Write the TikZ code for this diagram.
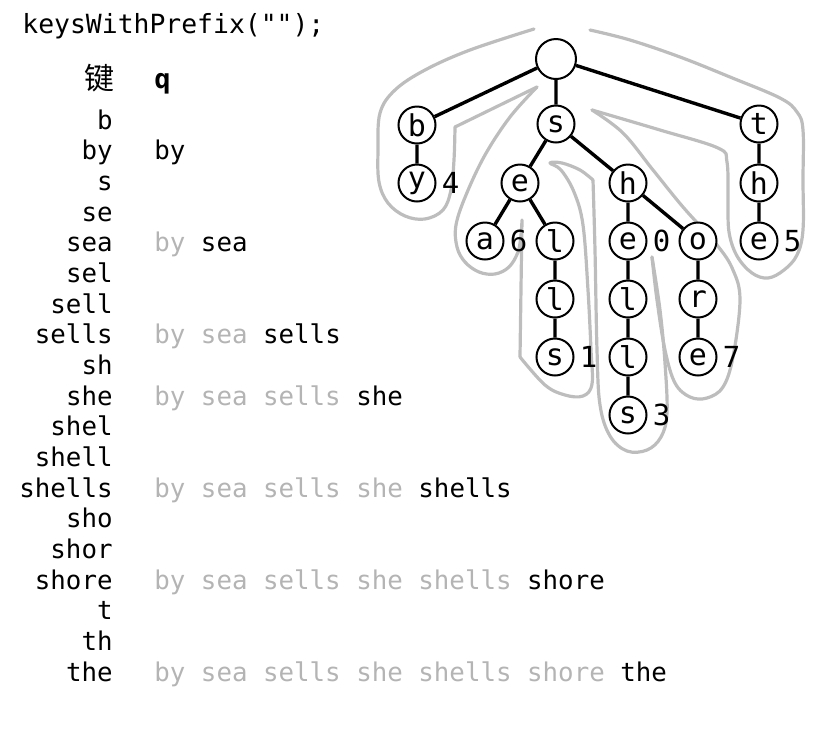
\documentclass[tikz,border=0pt]{standalone}
\usepackage{fontspec}
\setmonofont{DejaVu Sans Mono}
\newfontfamily\cjkfont{Noto Sans CJK SC}
\usepackage{tikz}
\usetikzlibrary{positioning}
\definecolor{qgray}{HTML}{B4B4B4}
\definecolor{pathgray}{HTML}{BDBDBD}

\begin{document}
\begin{tikzpicture}[x=0.5pt, y=-0.5pt,
    txt/.style={font=\fontsize{12.9}{15}\selectfont\ttfamily, inner sep=0pt},
    trie/.style={circle, draw, fill=white, line width=1pt, minimum size=18.5pt, inner sep=0pt,
      font=\fontsize{15}{16}\selectfont\ttfamily},
    val/.style={font=\fontsize{14.5}{15}\selectfont\ttfamily, inner sep=0pt, xshift=2.5pt},
    link/.style={line width=1.7pt},
    contour/.style={pathgray, line width=1.6pt, line cap=round, line join=round}]
      \useasboundingbox (0,0) rectangle (832,736);

      \node [txt, anchor=base west, font=\fontsize{13.2}{15}\selectfont\ttfamily] (call) at (22,33) {keysWithPrefix("");};
      \node [anchor=base east, inner sep=0pt, font=\cjkfont\fontsize{15}{16}\selectfont] (jian) at (115,89) {键};
      \node [txt, anchor=base west, font=\fontsize{13.5}{15}\selectfont\ttfamily\bfseries] (qhead) at (154,88) {q};

      \foreach \k [count=\i from 0] in {b,by,s,se,sea,sel,sell,sells,sh,she,shel,shell,shells,sho,shor,shore,t,th,the}
        \node [txt, anchor=base east] (k\i) at (113,{129+30.67*\i}) {\k};

      \foreach \i/\old/\new in {1/{}/by, 4/by~/sea, 7/by~sea~/sells, 9/by~sea~sells~/she,
          12/by~sea~sells~she~/shells, 15/by~sea~sells~she~shells~/shore,
          18/by~sea~sells~she~shells~shore~/the}
        \node [txt, anchor=base west] (q\i) at (154,{129+30.67*\i}) {\textcolor{qgray}{\old}\new};

      % path of the traversal
      \draw [contour] plot [smooth, tension=.6] coordinates {(534,29) (470,50) (425,70) (395,90) (380,113) (378,150)
        (379,182) (388,203) (405,216) (425,219) (443,210) (451,190) (454,160) (455,127)} -- (537,87);
      \draw [contour] plot [smooth, tension=.6] coordinates {(537,87) (510,117) (485,155) (466,195) (456,225)
        (457,247) (465,262) (479,272) (495,274) (509,267) (518,252) (521,235) (522,220)} -- (520,357);
      \draw [contour] plot [smooth, tension=.6] coordinates {(520,357) (545,385) (565,395) (583,396) (592,384)
        (591,350) (588,290) (583,225) (574,192) (561,170) (550,163) (562,163) (580,170) (593,180)};
      \draw [contour] plot [smooth, tension=.6] coordinates {(593,180) (595,250) (597,350) (600,405) (610,436)
        (627,451) (647,450) (661,437) (667,413) (665,363) (660,310) (652,257)};
      \draw [contour] plot [smooth, tension=.6] coordinates {(652,257) (657,300) (665,350) (675,383) (690,397)
        (707,398) (723,387) (733,357) (740,300) (733,270) (717,245) (683,207) (653,170) (623,133) (592,110)};
      \draw [contour] plot [smooth, tension=.6] coordinates {(592,110) (660,130) (718,148) (727,162) (728,200)
        (729,232) (737,256) (752,273) (768,278) (784,270) (797,255) (803,230) (803,180) (803,130) (797,112)
        (780,98) (730,77) (680,57) (630,40) (590,30)};

      % trie nodes
      \node [trie, minimum size=20pt] (root) at (556,59) {};
      \node [trie] (b) at (417,125) {b};
      \node [trie, label={[val]right:4}] (by) at (417,183) {y};
      \node [trie] (s) at (556,124) {s};
      \node [trie] (se) at (520,183) {e};
      \node [trie, label={[val]right:6}] (sea) at (485,241) {a};
      \node [trie] (sel) at (555,241) {l};
      \node [trie] (sell) at (555,299) {l};
      \node [trie, label={[val]right:1}] (sells) at (555,357) {s};
      \node [trie] (sh) at (628,183) {h};
      \node [trie, label={[val]right:0}] (she) at (628,241) {e};
      \node [trie] (shel) at (628,299) {l};
      \node [trie] (shell) at (628,357) {l};
      \node [trie, label={[val]right:3}] (shells) at (628,415) {s};
      \node [trie] (sho) at (698,241) {o};
      \node [trie] (shor) at (698,299) {r};
      \node [trie, label={[val]right:7}] (shore) at (698,357) {e};
      \node [trie] (t) at (759,124) {t};
      \node [trie] (th) at (759,183) {h};
      \node [trie, label={[val]right:5}] (the) at (759,241) {e};

      \draw [link] (root) -- (b) (b) -- (by);
      \draw [link] (root) -- (s) (s) -- (se) (se) -- (sea) (se) -- (sel) (sel) -- (sell) (sell) -- (sells);
      \draw [link] (s) -- (sh) (sh) -- (she) (she) -- (shel) (shel) -- (shell) (shell) -- (shells);
      \draw [link] (sh) -- (sho) (sho) -- (shor) (shor) -- (shore);
      \draw [link] (root) -- (t) (t) -- (th) (th) -- (the);
    \end{tikzpicture}
\end{document}
